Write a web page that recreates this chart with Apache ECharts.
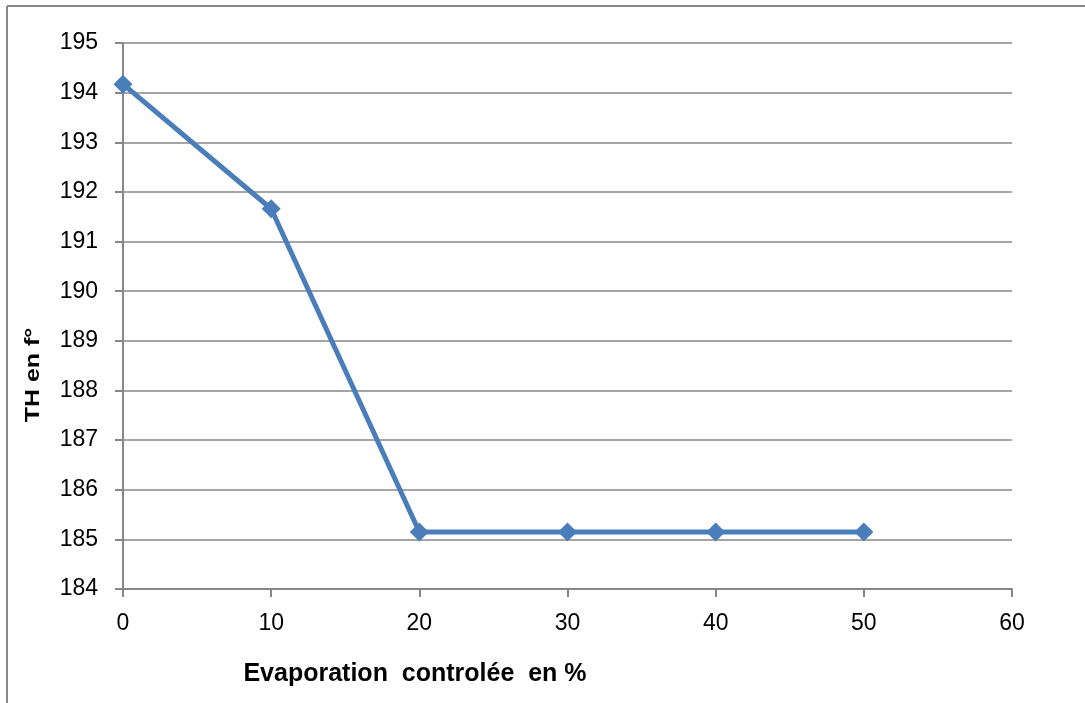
<!DOCTYPE html>
<html>
<head>
<meta charset="utf-8">
<title>TH en f°</title>
<script src="https://cdn.jsdelivr.net/npm/echarts@6/dist/echarts.min.js"></script>
<style>
  html, body { margin: 0; padding: 0; background: #ffffff; }
  #chart { width: 1085px; height: 703px; }
</style>
</head>
<body>
<div id="chart"></div>
<script>
// Controlled evaporation (%) versus total hardness (TH, in French degrees)
const evaporation = [0, 10, 20, 30, 40, 50];
const hardness = [194.17, 191.66, 185.15, 185.15, 185.15, 185.15];
const xTicks = { min: 0, max: 60, step: 10 };
const yTicks = { min: 184, max: 195, step: 1 };
const xTitle = 'Evaporation  controlée  en %';
const yTitle = 'TH en f°';

const gray = '#878787';
const blue = '#4A7EBB';
const font = '"Liberation Sans", Arial, sans-serif';

const chart = echarts.init(document.getElementById('chart'), null, { renderer: 'canvas' });

chart.setOption({
  backgroundColor: '#ffffff',
  animation: false,
  grid: { left: 123, right: 73, top: 43, bottom: 114, containLabel: false },
  xAxis: {
    type: 'value',
    min: xTicks.min,
    max: xTicks.max,
    interval: xTicks.step,
    axisLine: { show: true, lineStyle: { color: gray, width: 2 } },
    axisTick: { show: true, length: 8, lineStyle: { color: gray, width: 2 } },
    axisLabel: { margin: 23, color: '#000', fontFamily: font, fontSize: 23 },
    splitLine: { show: false }
  },
  yAxis: {
    type: 'value',
    min: yTicks.min,
    max: yTicks.max,
    interval: yTicks.step,
    axisLine: { show: true, lineStyle: { color: gray, width: 2 } },
    axisTick: { show: true, length: 8, lineStyle: { color: gray, width: 2 } },
    axisLabel: { margin: 25, color: '#000', fontFamily: font, fontSize: 23 },
    splitLine: { show: true, lineStyle: { color: gray, width: 1.6 } }
  },
  series: [{
    type: 'line',
    data: evaporation.map((x, i) => [x, hardness[i]]),
    symbol: 'diamond',
    symbolSize: 19,
    showAllSymbol: true,
    lineStyle: { color: blue, width: 5 },
    itemStyle: { color: blue },
    z: 5
  }],
  graphic: [
    // outer frame: left and top edges
    { type: 'line', shape: { x1: 7, y1: 6, x2: 7, y2: 703 }, style: { stroke: gray, lineWidth: 2 } },
    { type: 'line', shape: { x1: 7, y1: 6, x2: 1085, y2: 6 }, style: { stroke: gray, lineWidth: 2 } },
    // axis titles
    {
      type: 'text', x: 415, y: 674,
      style: { text: xTitle, font: 'bold 25px ' + font, fill: '#000', align: 'center', verticalAlign: 'middle' }
    },
    {
      type: 'text', x: 33, y: 375, rotation: Math.PI / 2, scaleX: 1.25,
      style: { text: yTitle, font: 'bold 20px ' + font, fill: '#000', align: 'center', verticalAlign: 'middle' }
    }
  ]
});
</script>
</body>
</html>
